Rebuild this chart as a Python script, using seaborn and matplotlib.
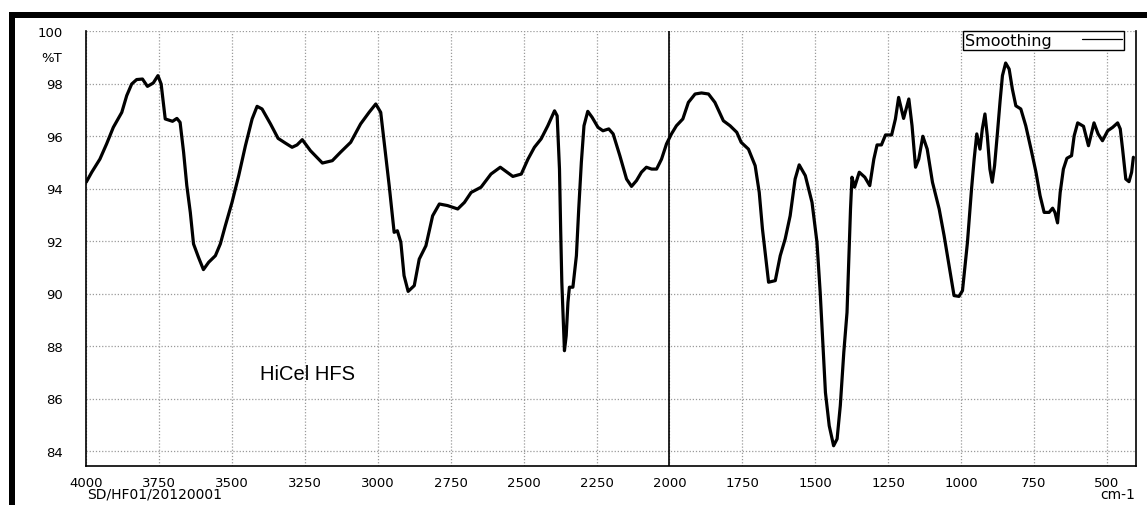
import matplotlib
matplotlib.use("Agg")
import matplotlib.pyplot as plt
import matplotlib.transforms as mtransforms
from matplotlib.lines import Line2D
from matplotlib.patches import Rectangle
from matplotlib.ticker import MultipleLocator
import pandas as pd
import seaborn as sns


# FT-IR spectrum (wavenumber in cm-1, transmittance in %T)
wavenumber = [
    4000, 3981, 3953, 3930, 3907, 3878, 3861, 3844, 3827, 3807, 3790, 3770, 3754, 3743,
    3729, 3704, 3689, 3678, 3666, 3655, 3643, 3632, 3615, 3598, 3580, 3557, 3540, 3523,
    3500, 3477, 3454, 3431, 3414, 3397, 3368, 3342, 3317, 3294, 3277, 3259, 3231, 3190,
    3156, 3128, 3093, 3059, 3030, 3007, 2990, 2973, 2961, 2944, 2933, 2921, 2910, 2896,
    2875, 2858, 2835, 2812, 2789, 2761, 2726, 2703, 2680, 2646, 2612, 2580, 2537, 2508,
    2485, 2463, 2440, 2417, 2394, 2385, 2377, 2373, 2369, 2360, 2354, 2348, 2343, 2331,
    2319, 2311, 2302, 2293, 2280, 2265, 2245, 2228, 2208, 2193, 2170, 2147, 2130, 2113,
    2096, 2079, 2061, 2044, 2027, 2010, 1993, 1976, 1954, 1935, 1912, 1890, 1866, 1844,
    1815, 1792, 1769, 1754, 1729, 1706, 1692, 1681, 1669, 1660, 1637, 1620, 1603, 1586,
    1569, 1555, 1534, 1511, 1494, 1483, 1474, 1465, 1452, 1437, 1425, 1414, 1402, 1391,
    1385, 1379, 1374, 1365, 1349, 1330, 1313, 1299, 1288, 1273, 1259, 1238, 1225, 1214,
    1197, 1179, 1168, 1156, 1145, 1131, 1116, 1098, 1075, 1058, 1041, 1024, 1007, 995,
    978, 964, 955, 946, 935, 927, 918, 910, 901, 893, 885, 875, 866, 858, 847, 835, 824,
    812, 795, 778, 760, 743, 729, 715, 698, 686, 678, 669, 660, 649, 637, 621, 612, 600,
    580, 563, 544, 530, 515, 497, 480, 463, 454, 446, 435, 424, 415, 409,
]
transmittance = [
    94.24, 94.62, 95.12, 95.70, 96.33, 96.90, 97.54, 97.98, 98.15, 98.17, 97.89, 98.02, 98.30, 97.98,
    96.65, 96.56, 96.67, 96.52, 95.38, 94.11, 93.09, 91.89, 91.38, 90.91, 91.19, 91.44, 91.89, 92.58,
    93.47, 94.49, 95.63, 96.65, 97.13, 97.03, 96.46, 95.91, 95.73, 95.57, 95.66, 95.86, 95.44, 94.97,
    95.06, 95.38, 95.76, 96.46, 96.90, 97.22, 96.90, 95.25, 94.11, 92.33, 92.39, 91.95, 90.68, 90.08,
    90.30, 91.31, 91.82, 92.96, 93.41, 93.35, 93.22, 93.47, 93.85, 94.05, 94.55, 94.81, 94.46, 94.55,
    95.12, 95.57, 95.89, 96.39, 96.96, 96.77, 94.74, 92.46, 90.43, 87.82, 88.39, 89.66, 90.24, 90.24,
    91.44, 93.22, 95.00, 96.39, 96.94, 96.71, 96.33, 96.20, 96.27, 96.08, 95.25, 94.36, 94.08, 94.30,
    94.62, 94.81, 94.74, 94.74, 95.12, 95.70, 96.08, 96.39, 96.65, 97.28, 97.60, 97.64, 97.60, 97.28,
    96.58, 96.39, 96.14, 95.76, 95.50, 94.87, 93.85, 92.46, 91.31, 90.43, 90.49, 91.44, 92.08, 92.96,
    94.36, 94.90, 94.49, 93.47, 91.95, 90.04, 88.14, 86.23, 84.96, 84.20, 84.46, 85.73, 87.76, 89.28,
    91.31, 93.22, 94.43, 94.05, 94.62, 94.43, 94.11, 95.12, 95.66, 95.66, 96.04, 96.04, 96.65, 97.47,
    96.67, 97.41, 96.39, 94.81, 95.12, 95.99, 95.50, 94.24, 93.22, 92.20, 91.06, 89.92, 89.89, 90.11,
    91.95, 93.98, 95.12, 96.08, 95.50, 96.27, 96.84, 96.01, 94.74, 94.24, 94.87, 96.14, 97.34, 98.30,
    98.78, 98.55, 97.79, 97.15, 97.03, 96.39, 95.50, 94.62, 93.73, 93.09, 93.09, 93.25, 93.09, 92.69,
    93.85, 94.74, 95.15, 95.25, 96.01, 96.50, 96.37, 95.63, 96.50, 96.08, 95.82, 96.20, 96.33, 96.50,
    96.27, 95.50, 94.36, 94.26, 94.62, 95.19,
]

x_ticks = [4000, 3750, 3500, 3250, 3000, 2750, 2500, 2250, 2000, 1750, 1500, 1250, 1000, 750, 500]
y_ticks = [84, 86, 88, 90, 92, 94, 96, 98, 100]

sample_name = "HiCel HFS"
legend_label = "Smoothing"
file_id = "SD/HF01/20120001"
x_unit = "cm-1"
y_unit = "%T"

sns.set_style("white")
plt.rcParams["font.family"] = ["DejaVu Sans"]
plt.rcParams["text.color"] = "black"
plt.rcParams["xtick.labelcolor"] = "black"
plt.rcParams["ytick.labelcolor"] = "black"

W, H = 1147, 506
fig = plt.figure(figsize=(W / 100, H / 100), dpi=100)
ax = fig.add_axes([86.2 / W, 1 - 466.7 / H, (1136 - 86.2) / W, (466.7 - 32) / H])

df = pd.DataFrame({"wavenumber": wavenumber, "transmittance": transmittance})
sns.lineplot(data=df, x="wavenumber", y="transmittance", ax=ax, color="black",
             lw=2.3, estimator=None, sort=False, legend=False, zorder=3)

ax.set_xlim(4000, 400)
ax.set_ylim(83.44, 100)
ax.set_xlabel("")
ax.set_ylabel("")

ax.set_xticks(x_ticks)
ax.set_xticklabels([str(t) for t in x_ticks])
ax.set_yticks(y_ticks)
ax.set_yticklabels([str(t) for t in y_ticks])
ax.xaxis.set_minor_locator(MultipleLocator(50))
ax.yaxis.set_minor_locator(MultipleLocator(0.4))

ax.set_axisbelow(True)
ax.grid(True, which="major", linestyle=(0, (1, 1.5)), color="#9a9a9a", lw=0.9)

ax.tick_params(axis="x", which="major", direction="out", length=6, width=1,
               color="#222222", pad=1.5, labelsize=9.5)
ax.tick_params(axis="x", which="minor", direction="in", length=3.6, width=1, color="#222222")
ax.tick_params(axis="y", which="major", direction="out", length=11.5, width=1,
               color="#444444", pad=5, labelsize=9.5)
ax.tick_params(axis="y", which="minor", direction="out", length=4.8, width=1, color="#222222")

for side in ["left", "bottom", "right"]:
    ax.spines[side].set_visible(True)
    ax.spines[side].set_color("black")
    ax.spines[side].set_linewidth(1.2)
ax.spines["top"].set_visible(False)

# separator at 2000 cm-1
ax.axvline(2000, color="black", lw=1.2, zorder=2)

handle = Line2D([], [], color="black", lw=0.9)
leg = ax.legend([handle], [legend_label], loc="upper right", bbox_to_anchor=(0.9886, 1.0),
                markerfirst=False, frameon=True, fancybox=False, framealpha=1,
                edgecolor="black", fontsize=11.5, handlelength=2.5, handletextpad=1.9,
                borderpad=0.12, borderaxespad=0)
leg.get_frame().set_linewidth(1.0)

ax.text(3405, 86.97, sample_name, fontsize=14.5, family="Liberation Sans",
        ha="left", va="center")

trans = mtransforms.blended_transform_factory(ax.transAxes, ax.transData)
ax.text(-0.0233, 99.0, y_unit, transform=trans, ha="right", va="center", fontsize=9.5)

fig.text(86.7 / W, 1 - 495 / H, file_id, ha="left", va="center", fontsize=10)
fig.text(1135 / W, 1 - 495 / H, x_unit, ha="right", va="center", fontsize=10)

# thick black frame on the top and left edge of the page
fig.add_artist(Rectangle((9 / W, 1 - 19 / H), 1 - 9 / W, 6 / H,
                         transform=fig.transFigure, color="black", lw=0))
fig.add_artist(Rectangle((9 / W, 0), 6 / W, 1 - 13 / H,
                         transform=fig.transFigure, color="black", lw=0))

fig.savefig("out.png", dpi=100)
